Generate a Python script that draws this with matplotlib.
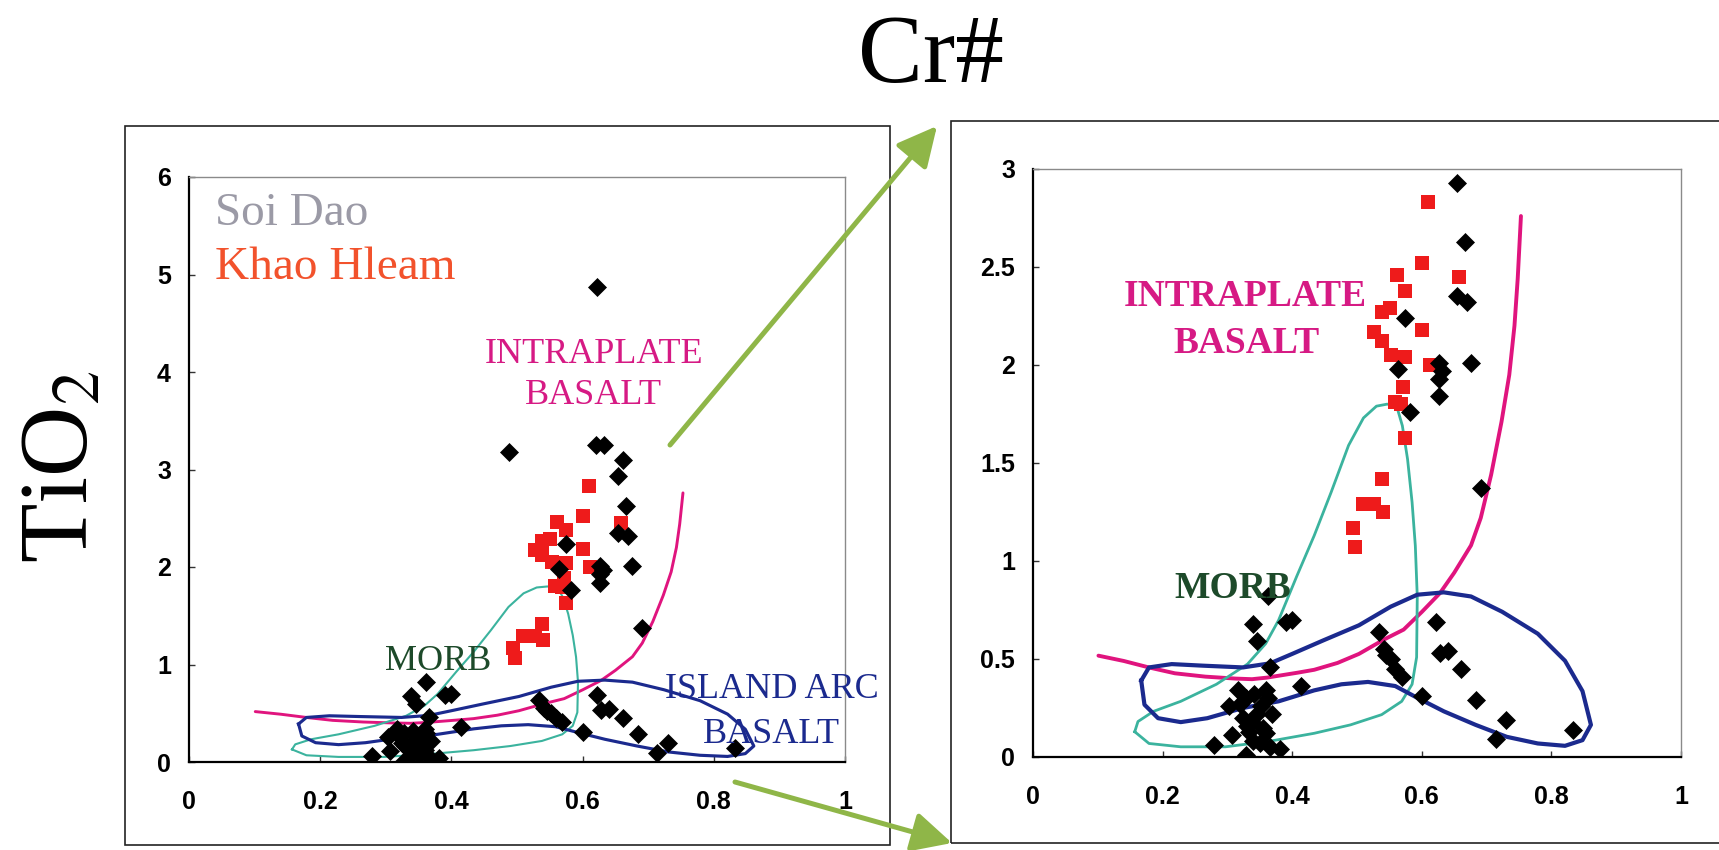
import matplotlib
matplotlib.use("Agg")
import matplotlib.pyplot as plt
from matplotlib.patches import Rectangle, FancyArrowPatch

plt.rcParams['mathtext.fontset'] = 'stix'

# ---------------- data ----------------
# Soi Dao (black diamonds): Cr# vs TiO2
soi_x = [0.622, 0.620, 0.633, 0.488, 0.662,
         0.654, 0.666, 0.669, 0.676, 0.654, 0.574, 0.564, 0.582, 0.626, 0.631, 0.626, 0.626, 0.691,
         0.362, 0.339, 0.346, 0.366, 0.390, 0.399, 0.414,
         0.317, 0.328, 0.303, 0.359, 0.341, 0.362, 0.352, 0.369, 0.320, 0.345,
         0.324, 0.338, 0.355, 0.334, 0.307, 0.350, 0.366, 0.381, 0.328, 0.279, 0.330, 0.360, 0.340,
         0.534, 0.541, 0.545, 0.552, 0.559, 0.569, 0.600,
         0.622, 0.628, 0.640, 0.661, 0.684, 0.730, 0.714, 0.833]
soi_y = [4.87, 3.25, 3.25, 3.18, 3.10,
         2.93, 2.63, 2.32, 2.01, 2.35, 2.24, 1.98, 1.76, 2.01, 1.97, 1.93, 1.84, 1.37,
         0.82, 0.68, 0.59, 0.46, 0.69, 0.70, 0.36,
         0.34, 0.30, 0.26, 0.34, 0.32, 0.30, 0.26, 0.22, 0.27, 0.22,
         0.20, 0.18, 0.15, 0.13, 0.11, 0.07, 0.05, 0.04, 0.01, 0.06, 0.16, 0.12, 0.08,
         0.64, 0.55, 0.52, 0.50, 0.45, 0.41, 0.31,
         0.69, 0.53, 0.54, 0.45, 0.29, 0.19, 0.09, 0.14]

# Khao Hleam (red squares)
kh_x = [0.609, 0.601, 0.561, 0.574, 0.658, 0.538, 0.551, 0.527, 0.538, 0.601, 0.553, 0.574,
        0.612, 0.571, 0.558, 0.568, 0.574, 0.538, 0.509, 0.527, 0.540, 0.494, 0.497]
kh_y = [2.83, 2.52, 2.46, 2.38, 2.45, 2.27, 2.29, 2.17, 2.12, 2.18, 2.05, 2.04,
        2.00, 1.89, 1.81, 1.80, 1.63, 1.42, 1.29, 1.29, 1.25, 1.17, 1.07]

# Intraplate basalt boundary (magenta)
ip_x = [0.101, 0.140, 0.180, 0.219, 0.266, 0.313, 0.338, 0.361, 0.408, 0.434, 0.470, 0.503, 0.542,
        0.572, 0.600, 0.628, 0.650, 0.676, 0.691, 0.707, 0.723, 0.735, 0.743, 0.748, 0.753]
ip_y = [0.517, 0.490, 0.456, 0.427, 0.410, 0.400, 0.397, 0.405, 0.430, 0.445, 0.480, 0.526, 0.600,
        0.650, 0.740, 0.836, 0.940, 1.080, 1.220, 1.440, 1.710, 1.950, 2.200, 2.440, 2.760]

# MORB field (teal)
morb_x = [0.157, 0.179, 0.228, 0.297, 0.366, 0.434, 0.490, 0.538, 0.569, 0.585, 0.592, 0.593,
          0.590, 0.585, 0.578, 0.570, 0.563, 0.555, 0.546, 0.530, 0.510, 0.487, 0.460,
          0.434, 0.407, 0.379, 0.359, 0.331, 0.283, 0.228, 0.186, 0.162, 0.157]
morb_y = [0.129, 0.069, 0.052, 0.052, 0.081, 0.121, 0.164, 0.216, 0.284, 0.371, 0.509, 0.819,
          1.078, 1.300, 1.520, 1.690, 1.770, 1.800, 1.800, 1.790, 1.730, 1.590, 1.350,
          1.130, 0.922, 0.698, 0.578, 0.474, 0.371, 0.284, 0.233, 0.181, 0.129]

# Island arc basalt field (navy)
iab_x = [0.167, 0.179, 0.214, 0.262, 0.324, 0.366, 0.400, 0.448, 0.503, 0.552, 0.593, 0.634,
         0.676, 0.724, 0.779, 0.821, 0.848, 0.861, 0.848, 0.821, 0.779, 0.731, 0.683, 0.634,
         0.593, 0.559, 0.517, 0.476, 0.434, 0.379, 0.324, 0.269, 0.228, 0.193, 0.172, 0.167]
iab_y = [0.390, 0.457, 0.474, 0.466, 0.457, 0.478, 0.526, 0.595, 0.672, 0.767, 0.828, 0.840,
         0.819, 0.741, 0.629, 0.491, 0.336, 0.164, 0.086, 0.057, 0.069, 0.103, 0.164, 0.233,
         0.302, 0.362, 0.383, 0.371, 0.340, 0.284, 0.250, 0.198, 0.178, 0.198, 0.267, 0.390]

x_ticks = [0, 0.2, 0.4, 0.6, 0.8, 1]
x_labels = ["0", "0.2", "0.4", "0.6", "0.8", "1"]
yl_ticks = [0, 1, 2, 3, 4, 5, 6]
yl_labels = ["0", "1", "2", "3", "4", "5", "6"]
yr_ticks = [0, 0.5, 1, 1.5, 2, 2.5, 3]
yr_labels = ["0", "0.5", "1", "1.5", "2", "2.5", "3"]

# ---------------- styling ----------------
C_MAG = "#e0147e"
C_MORB = "#3bb39e"
C_IAB = "#1b2a8e"
C_RED = "#ee1b1b"
C_ARROW = "#8fb648"
SERIF = "Liberation Serif"
SANS = "Liberation Sans"

W, H = 1719, 850
fig = plt.figure(figsize=(W / 100, H / 100), dpi=100)
fig.patch.set_facecolor("white")


def fx(px):
    return px / W


def fy(py):
    return 1 - py / H


# outer boxes
fig.add_artist(Rectangle((fx(125), fy(845)), fx(890) - fx(125), fy(126) - fy(845),
                         transform=fig.transFigure, fill=False, ec="#222222", lw=1.2))
fig.add_artist(Rectangle((fx(951), fy(843)), fx(1730) - fx(951), fy(121) - fy(843),
                         transform=fig.transFigure, fill=False, ec="#222222", lw=1.2))

axL = fig.add_axes([fx(189), fy(762), fx(845) - fx(189), fy(177) - fy(762)])
axR = fig.add_axes([fx(1033), fy(757), fx(1681) - fx(1033), fy(169) - fy(757)])


def style(ax, yt, ylab, ytop, lw_scale):
    ax.set_xlim(0, 1)
    ax.set_ylim(0, ytop)
    ax.set_xticks(x_ticks)
    ax.set_xticklabels(x_labels)
    ax.set_yticks(yt)
    ax.set_yticklabels(ylab)
    for s in ("left", "bottom"):
        ax.spines[s].set_color("black")
        ax.spines[s].set_linewidth(1.6)
    for s in ("top", "right"):
        ax.spines[s].set_color("#8a8a8a")
        ax.spines[s].set_linewidth(1.0)
    ax.tick_params(axis="both", direction="in", length=4, width=1, color="#333333",
                   labelsize=18)
    ax.tick_params(axis="x", pad=20)
    ax.tick_params(axis="y", pad=13)
    for lab in ax.get_xticklabels() + ax.get_yticklabels():
        lab.set_fontfamily(SANS)
        lab.set_fontweight("bold")
    # fields
    ax.plot(ip_x, ip_y, color=C_MAG, lw=2.8 * lw_scale, zorder=2, solid_capstyle="round")
    ax.plot(morb_x, morb_y, color=C_MORB, lw=2.0 * lw_scale, zorder=2)
    ax.plot(iab_x, iab_y, color=C_IAB, lw=3.0 * lw_scale, zorder=2)
    # data
    ax.plot(kh_x, kh_y, ls="none", marker="s", ms=10.5, mfc=C_RED, mec=C_RED, mew=0, zorder=3)
    ax.plot(soi_x, soi_y, ls="none", marker="D", ms=9.5, mfc="black", mec="black", mew=0.5,
            zorder=4)


style(axL, yl_ticks, yl_labels, 6.0, 0.75)
style(axR, yr_ticks, yr_labels, 3.0, 1.0)

# left panel labels
axL.text(0.04, 5.62, "Soi Dao", family=SERIF, fontsize=34, color="#9b9aa6", va="center", ha="left")
axL.text(0.04, 5.07, "Khao Hleam", family=SERIF, fontsize=34, color="#f2522c", va="center", ha="left")
axL.text(0.617, 4.18, "INTRAPLATE", family=SERIF, fontsize=26, color="#d61a84", ha="center", va="center")
axL.text(0.617, 3.76, "BASALT", family=SERIF, fontsize=26, color="#d61a84", ha="center", va="center")
axL.text(0.38, 1.03, "MORB", family=SERIF, fontsize=26, color="#1d4a2a", ha="center", va="center",
         zorder=5)
axL.text(0.888, 0.74, "ISLAND ARC", family=SERIF, fontsize=26, color=C_IAB, ha="center", va="center",
         zorder=5)
axL.text(0.888, 0.28, "BASALT", family=SERIF, fontsize=26, color=C_IAB, ha="center", va="center",
         zorder=5)

# right panel labels
axR.text(0.327, 2.35, "INTRAPLATE", family=SERIF, fontsize=27, fontweight="bold", color="#d61a84",
         ha="center", va="center")
axR.text(0.33, 2.11, "BASALT", family=SERIF, fontsize=27, fontweight="bold", color="#d61a84",
         ha="center", va="center")
axR.text(0.309, 0.86, "MORB", family=SERIF, fontsize=27, fontweight="bold", color="#1d4a2a",
         ha="center", va="center", zorder=5)

# axis titles
fig.text(fx(931), fy(82), "Cr#", family=SERIF, fontsize=70, ha="center", va="baseline")
fig.text(fx(64), fy(467), "TiO$_2$", family=SERIF, fontsize=70, rotation=90, ha="center", va="center")

# green arrows
for (xa, ya), (xb, yb) in [((670, 445), (937, 126)), ((735, 782), (952, 843))]:
    arr = FancyArrowPatch((fx(xa), fy(ya)), (fx(xb), fy(yb)), transform=fig.transFigure,
                          arrowstyle="-|>,head_length=1.1,head_width=0.55", mutation_scale=22,
                          color=C_ARROW, lw=3.6, shrinkA=0, shrinkB=0, zorder=10)
    fig.add_artist(arr)

fig.savefig("out.png", dpi=100)
